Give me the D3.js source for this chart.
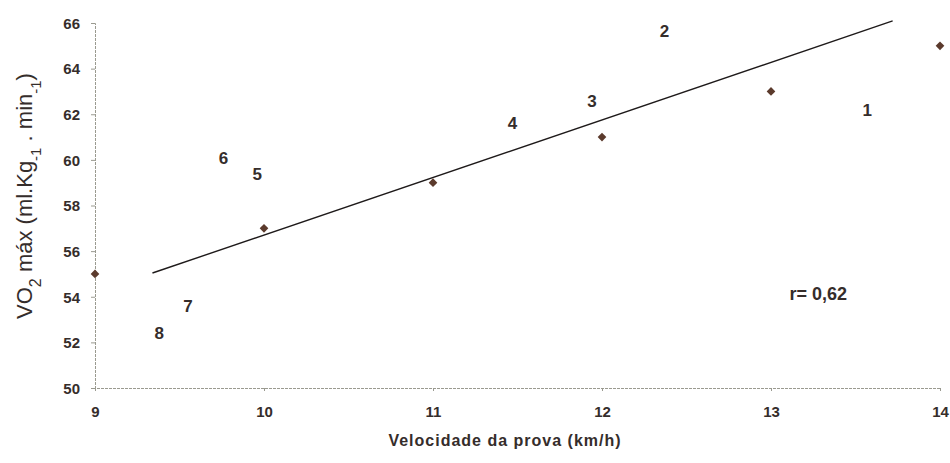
<!DOCTYPE html>
<html>
<head>
<meta charset="utf-8">
<script src="https://cdn.jsdelivr.net/npm/d3@7"></script>
<style>
  body { margin: 0; background: #fff; }
  svg { font-family: "Liberation Sans", Arial, sans-serif; }
</style>
</head>
<body>
<svg id="chart" width="950" height="463"></svg>
<script>
// points
const speeds = [9, 10, 11, 12, 13, 14];
const vo2 = [55, 57, 59, 61, 63, 65];

// regression line ends
const fitX = [9.34, 13.72];
const fitY = [55.04, 66.09];

// numbered athlete labels
const labelText = ["1", "2", "3", "4", "5", "6", "7", "8"];
const labelX = [13.57, 12.37, 11.94, 11.47, 9.96, 9.76, 9.55, 9.38];
const labelY = [62.2, 65.65, 62.6, 61.6, 59.4, 60.1, 53.6, 52.4];

const xTicks = [9, 10, 11, 12, 13, 14];
const yTicks = [50, 52, 54, 56, 58, 60, 62, 64, 66];

const margin = { top: 23, right: 10, bottom: 75, left: 95 };
const width = 940 - margin.left;
const height = 388 - margin.top;

const svg = d3.select("#chart");
const g = svg.append("g").attr("transform", `translate(${margin.left}, ${margin.top})`);

const x = d3.scaleLinear().domain([9, 14]).range([0, width]);
const y = d3.scaleLinear().domain([50, 66]).range([height, 0]);

const ink = "#352d2b";

// axes
const xAxis = g.append("g")
    .attr("transform", `translate(0, ${height})`)
    .call(d3.axisBottom(x).tickValues(xTicks).tickSize(3).tickPadding(15).tickFormat(d3.format("d")));
const yAxis = g.append("g")
    .call(d3.axisLeft(y).tickValues(yTicks).tickSize(4).tickPadding(11).tickFormat(d3.format("d")));

[xAxis, yAxis].forEach(a => {
    a.select(".domain").attr("stroke", "#9a9a90").attr("stroke-dasharray", "3,1");
    a.selectAll(".tick line").attr("stroke", "#9a9a90");
    a.selectAll(".tick text")
        .attr("fill", ink)
        .style("font-size", "15px")
        .style("font-weight", "bold")
        .style("font-family", "'Liberation Sans', Arial, sans-serif");
});
yAxis.selectAll(".tick text").attr("dy", "0.35em");

// regression line
g.append("line")
    .attr("x1", x(fitX[0])).attr("y1", y(fitY[0]))
    .attr("x2", x(fitX[1])).attr("y2", y(fitY[1]))
    .attr("stroke", "#1e1a1a")
    .attr("stroke-width", 1.4);

// diamond markers
g.selectAll(".pt")
    .data(speeds.map((s, i) => ({ s, v: vo2[i] })))
    .join("path")
    .attr("class", "pt")
    .attr("d", d3.symbol().type(d3.symbolDiamond2).size(48))
    .attr("transform", d => `translate(${x(d.s)}, ${y(d.v)})`)
    .attr("fill", "#5b3a2c");

// numbered labels
g.selectAll(".num")
    .data(labelText.map((t, i) => ({ t, lx: labelX[i], ly: labelY[i] })))
    .join("text")
    .attr("class", "num")
    .attr("x", d => x(d.lx))
    .attr("y", d => y(d.ly))
    .attr("dy", "0.35em")
    .attr("text-anchor", "middle")
    .attr("fill", ink)
    .style("font-size", "17px")
    .style("font-weight", "bold")
    .text(d => d.t);

// correlation
g.append("text")
    .attr("x", x(13.28))
    .attr("y", y(54.15))
    .attr("dy", "0.35em")
    .attr("text-anchor", "middle")
    .attr("fill", ink)
    .style("font-size", "18px")
    .style("font-weight", "bold")
    .text("r= 0,62");

// x title
svg.append("text")
    .attr("x", 505)
    .attr("y", 446)
    .attr("text-anchor", "middle")
    .attr("fill", ink)
    .style("font-size", "16px")
    .style("font-weight", "bold")
    .style("letter-spacing", "1px")
    .text("Velocidade da prova (km/h)");

// y title with subscripts
const yt = svg.append("text")
    .attr("transform", "translate(32, 196) rotate(-90)")
    .attr("text-anchor", "middle")
    .attr("fill", ink)
    .style("font-size", "22px");
yt.append("tspan").text("VO");
yt.append("tspan").attr("baseline-shift", "sub").style("font-size", "16px").text("2");
yt.append("tspan").text(" máx (ml.Kg");
yt.append("tspan").attr("baseline-shift", "sub").style("font-size", "15px").text("-1");
yt.append("tspan").text(" . min");
yt.append("tspan").attr("baseline-shift", "sub").style("font-size", "15px").text("-1");
yt.append("tspan").text(")");
</script>
</body>
</html>
